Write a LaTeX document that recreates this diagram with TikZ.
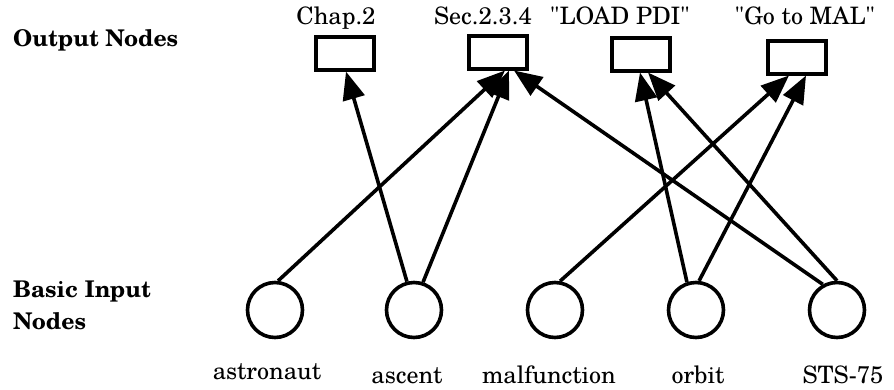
\documentclass[tikz,border=0pt]{standalone}
\usepackage{fontspec}
\setmainfont{TeX Gyre Schola}
\usetikzlibrary{arrows.meta}
\begin{document}
\begin{tikzpicture}[x=1pt,y=-1pt,
  outbox/.style={draw,line width=4pt,minimum width=58pt,minimum height=33pt,inner sep=0pt},
  innode/.style={draw,circle,line width=3.6pt,minimum size=55pt,inner sep=0pt},
  lbl/.style={inner sep=0pt,anchor=base,font=\fontsize{24}{28}\selectfont},
  side/.style={inner sep=0pt,anchor=base west,font=\fontsize{23}{28}\selectfont\bfseries},
  arr/.style={line width=3.6pt,-{Triangle[length=28pt,width=22pt]}}]
\useasboundingbox (0,0) rectangle (894,389);
% output nodes
\node[outbox] (chap) at (345,53) {};
\node[outbox] (sec)  at (498,52) {};
\node[outbox] (load) at (641,54) {};
\node[outbox] (go)   at (797,57) {};
\node[lbl] (tchap) at (336,24) {Chap.2};
\node[lbl] (tsec)  at (483,24) {Sec.2.3.4};
\node[lbl] (tload) at (620,24) {\textquotedbl LOAD PDI\textquotedbl};
\node[lbl] (tgo)   at (805,24) {\textquotedbl Go to MAL\textquotedbl};
% input nodes
\node[innode] (ast) at (275,310) {};
\node[innode] (asc) at (414,310) {};
\node[innode] (mal) at (555,310) {};
\node[innode] (orb) at (696,310) {};
\node[innode] (sts) at (837,310) {};
\node[lbl] (tast) at (267,379) {astronaut};
\node[lbl] (tasc) at (407,383) {ascent};
\node[lbl] (tmal) at (549,383) {malfunction};
\node[lbl] (torb) at (698,383) {orbit};
\node[lbl] (tsts) at (843,383) {STS-75};
% side labels
\node[side] (outlbl) at (13,46) {Output Nodes};
\node[side] (inlbla) at (13,297) {Basic Input};
\node[side] (inlblb) at (13,329) {Nodes};
% connectors
\draw[arr] (ast.84)  -- ([xshift=7pt]sec.south);
\draw[arr] (asc.104) -- ([xshift=1pt]chap.south);
\draw[arr] (asc.72)  -- ([xshift=11pt]sec.south);
\draw[arr] (sts.119) -- ([xshift=16pt]sec.south);
\draw[arr] (mal.80)  -- ([xshift=-8pt]go.south);
\draw[arr] (orb.108) -- ([xshift=-1pt]load.south);
\draw[arr] (orb.84)  -- ([xshift=9pt]go.south);
\draw[arr] (sts.90)  -- ([xshift=7pt]load.south);
\end{tikzpicture}
\end{document}
